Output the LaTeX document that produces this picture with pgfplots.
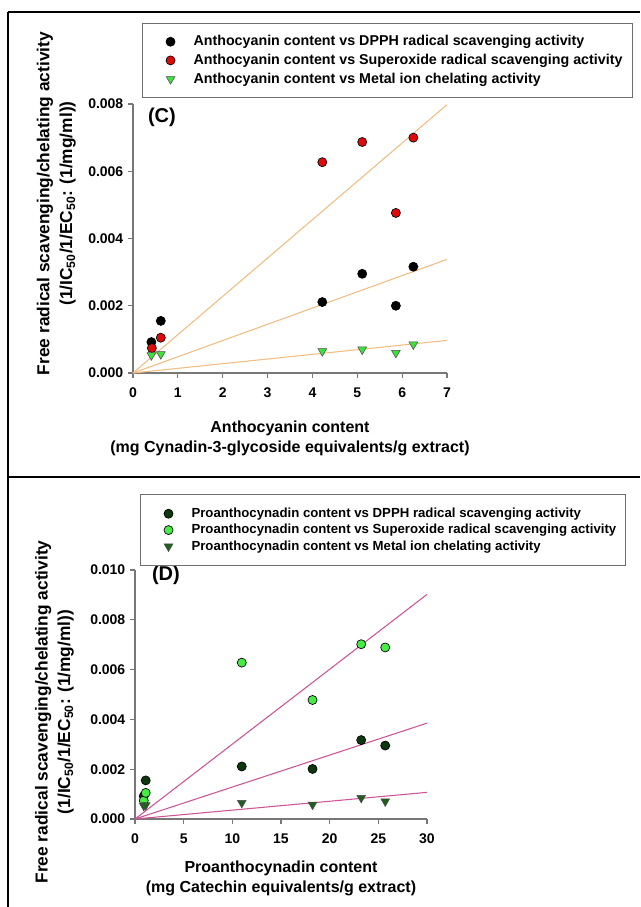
\documentclass[border=0pt]{standalone}
\usepackage{fontspec}
\setmainfont{Liberation Sans}
\usepackage{pgfplots}
\pgfplotsset{compat=1.18}
\definecolor{axisgray}{RGB}{120,120,120}
\definecolor{legendgray}{RGB}{110,110,110}
\definecolor{tanline}{RGB}{240,190,130}
\definecolor{pinkline}{RGB}{205,85,150}
\definecolor{cred}{RGB}{225,10,10}
\definecolor{cgreen}{RGB}{60,225,60}
\definecolor{dkgreen}{RGB}{15,55,15}
\definecolor{ltgreen}{RGB}{70,235,70}
\definecolor{midgreen}{RGB}{30,95,30}
\pgfplotsset{
  mystyle/.style={
    scale only axis,
    axis x line*=bottom, axis y line*=left,
    axis line style={draw=axisgray, line width=0.8pt},
    tick style={draw=axisgray, line width=0.8pt},
    tick align=outside, major tick length=3.75pt,
    ticklabel style={font=\fontsize{10.5}{12}\selectfont\bfseries},
    /pgf/number format/assume math mode=true,
    scaled y ticks=false,
    yticklabel style={/pgf/number format/fixed, /pgf/number format/fixed zerofill, /pgf/number format/precision=3},
    xlabel style={font=\fontsize{12}{15}\selectfont\bfseries, align=center},
    ylabel style={font=\fontsize{13}{17}\selectfont\bfseries, align=center},
    clip=false,
    legend cell align=left,
    legend image code/.code={\path[draw=none,fill=none] (0pt,-4pt) rectangle (38.25pt,4pt); \draw[##1] plot coordinates {(21pt,0pt)};},
  },
  dot/.style={only marks, mark=*, mark size=3.4pt, mark options={draw=black, line width=0.5pt, fill=#1}},
  tri/.style={only marks, mark=triangle*, mark size=3.8pt, mark options={rotate=180, draw=black!70, line width=0.4pt, fill=#1}},
}
\begin{document}
\begin{tikzpicture}
\useasboundingbox (0,0) rectangle (480pt,-680.25pt);
\draw[line width=1.5pt] (6pt,-9pt) -- (480pt,-9pt);
\draw[line width=1.5pt] (6pt,-9pt) -- (6pt,-680.25pt);
\draw[line width=1.5pt] (6pt,-357.75pt) -- (480pt,-357.75pt);

% Panel C
\begin{axis}[mystyle,
  at={(99.75pt,-279.75pt)}, anchor=south west,
  width=235.5pt, height=201.75pt,
  xmin=0, xmax=7, ymin=0, ymax=0.008,
  xtick={0,1,...,7}, ytick={0,0.002,0.004,0.006,0.008},
  xticklabel style={yshift=-4pt},
  xlabel={Anthocyanin content\\(mg Cynadin-3-glycoside equivalents/g extract)},
  xlabel style={at={(rel axis cs:0.5,0)}, anchor=center, yshift=-48.75pt},
  ylabel={Free radical scavenging/chelating activity\\(1/IC\textsubscript{50}/1/EC\textsubscript{50}: (1/mg/ml))},
  ylabel style={at={(rel axis cs:-0.244,0.63)}, anchor=center},
  legend style={at={(0.0287,1.301)}, anchor=north west, draw=legendgray, line width=0.8pt,
    inner xsep=0pt, inner ysep=9pt, nodes={inner sep=0pt}, row sep=4.75pt,
    font=\fontsize{10.7}{12}\selectfont\bfseries},
]
\addplot[tanline, line width=0.8pt, forget plot] coordinates {(0,0) (7,0.00798)};
\addplot[tanline, line width=0.8pt, forget plot] coordinates {(0,0) (7,0.00338)};
\addplot[tanline, line width=0.8pt, forget plot] coordinates {(0,0) (7,0.00097)};
\addplot[dot=black] coordinates {(0.41,0.00092) (0.62,0.00155) (4.22,0.00211) (5.11,0.00295) (5.86,0.00200) (6.25,0.00316)};
\addlegendentry{\makebox[329.25pt][l]{Anthocyanin content vs DPPH radical scavenging activity}}
\addplot[dot=cred] coordinates {(0.42,0.00074) (0.62,0.00105) (4.22,0.00627) (5.11,0.00687) (5.86,0.00476) (6.25,0.00700)};
\addlegendentry{\makebox[329.25pt][l]{Anthocyanin content vs Superoxide radical scavenging activity}}
\addplot[tri=cgreen] coordinates {(0.41,0.00053) (0.62,0.00056) (4.22,0.00065) (5.11,0.00070) (5.86,0.00060) (6.25,0.00085)};
\addlegendentry{\makebox[329.25pt][l]{Anthocyanin content vs Metal ion chelating activity}}
\node[font=\fontsize{15}{16}\selectfont\bfseries] at (rel axis cs:0.092,0.952) {(C)};
\end{axis}

% Panel D
\begin{axis}[mystyle,
  at={(101.25pt,-614.25pt)}, anchor=south west,
  width=219pt, height=186.75pt,
  xmin=0, xmax=30, ymin=0, ymax=0.010,
  xtick={0,5,...,30}, ytick={0,0.002,0.004,0.006,0.008,0.010},
  xticklabel style={yshift=-4pt},
  xlabel={Proanthocynadin content\\(mg Catechin equivalents/g extract)},
  xlabel style={at={(rel axis cs:0.5,0)}, anchor=center, yshift=-44.25pt},
  ylabel={Free radical scavenging/chelating activity\\(1/IC\textsubscript{50}/1/EC\textsubscript{50}: (1/mg/ml))},
  ylabel style={at={(rel axis cs:-0.276,0.43)}, anchor=center},
  legend style={at={(0.0171,1.305)}, anchor=north west, draw=legendgray, line width=0.8pt,
    inner xsep=0pt, inner ysep=10pt, nodes={inner sep=0pt}, row sep=3.6pt,
    font=\fontsize{9.9}{11}\selectfont\bfseries},
]
\addplot[pinkline, line width=0.8pt, forget plot] coordinates {(0,0) (30,0.00902)};
\addplot[pinkline, line width=0.8pt, forget plot] coordinates {(0,0) (30,0.00385)};
\addplot[pinkline, line width=0.8pt, forget plot] coordinates {(0,0) (30,0.00107)};
\addplot[dot=dkgreen] coordinates {(0.9,0.00092) (1.1,0.00155) (10.97,0.00211) (25.71,0.00295) (18.24,0.00201) (23.24,0.00317)};
\addlegendentry{\makebox[325.5pt][l]{Proanthocynadin content vs DPPH radical scavenging activity}}
\addplot[dot=ltgreen] coordinates {(0.9,0.00074) (1.1,0.00105) (10.97,0.00628) (25.71,0.00689) (18.24,0.00478) (23.24,0.00702)};
\addlegendentry{\makebox[325.5pt][l]{Proanthocynadin content vs Superoxide radical scavenging activity}}
\addplot[tri=midgreen] coordinates {(0.9,0.00053) (1.1,0.00056) (10.97,0.00065) (25.71,0.00071) (18.24,0.00058) (23.24,0.00085)};
\addlegendentry{\makebox[325.5pt][l]{Proanthocynadin content vs Metal ion chelating activity}}
\node[font=\fontsize{15}{16}\selectfont\bfseries] at (rel axis cs:0.106,0.98) {(D)};
\end{axis}
\end{tikzpicture}
\end{document}
